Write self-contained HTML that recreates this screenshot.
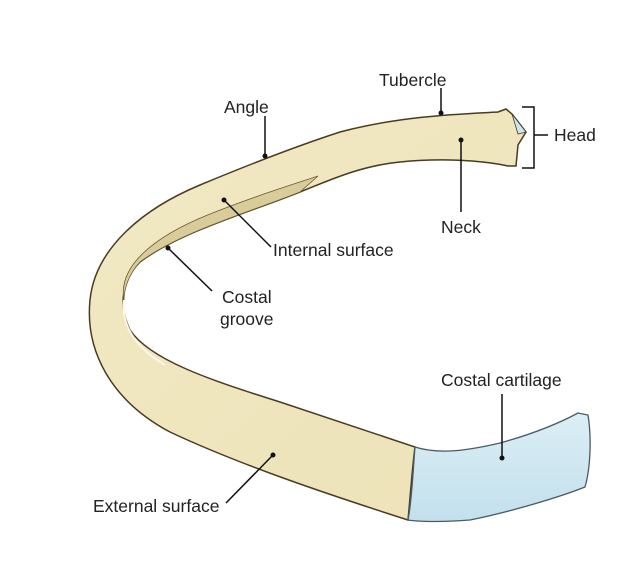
<!DOCTYPE html>
<html><head><style>
body{margin:0;background:#fff;}
svg{display:block;}
text{font-family:"Liberation Sans",sans-serif;font-size:17.5px;fill:#222;}
</style></head><body>
<svg width="626" height="571" viewBox="0 0 626 571">
<defs>
<linearGradient id="bone" x1="0" y1="0" x2="1" y2="1">
<stop offset="0" stop-color="#f1e9c4"/><stop offset="1" stop-color="#ede2b8"/>
</linearGradient>
<linearGradient id="cart" x1="0" y1="0" x2="0" y2="1">
<stop offset="0" stop-color="#dbeef5"/><stop offset="1" stop-color="#c3e0ec"/>
</linearGradient>
</defs>
<path d="M498,112 L506,109 L512,114 L526,132 L518,145 L516,166 L508,166 C480,160 440,158 400,162 C360,166 330,180 300,192 C250,212 180,232 140,262 C122,280 118,305 130,330 C150,360 210,380 280,402 L415,447 C412,470 410,500 408,520 C330,495 240,465 170,432 C110,400 85,350 90,300 C95,250 140,210 200,185 C260,160 300,145 340,132 C400,116 460,114 498,112 Z" fill="url(#bone)" stroke="#4a3b20" stroke-width="1.5"/>
<path d="M124,300 C118,268 150,238 210,214 C250,198 282,188 318,176 L300,192 C250,212 180,232 140,262 C128,275 124,290 124,300 Z" fill="#d8cc9a" stroke="#6a5a30" stroke-width="0.8"/>
<path d="M124,300 C121,330 140,350 165,365" fill="none" stroke="#fbf7e6" stroke-width="2"/>
<path d="M512,114 L526,132 L518,134 Z" fill="#cfe6f0" stroke="#4a3b20" stroke-width="0.8"/>
<path d="M415,447 C440,455 470,450 500,443 C540,432 565,420 578,413 L588,415 C592,440 590,470 585,487 C560,497 510,512 470,520 C445,522 420,522 408,520 C412,500 413,470 415,447 Z" fill="url(#cart)" stroke="#4a5a66" stroke-width="1.3"/>
<g stroke="#111" stroke-width="1.5" fill="none">
<line x1="441" y1="88" x2="441" y2="113"/>
<line x1="265" y1="116" x2="265" y2="156"/>
<line x1="461" y1="140" x2="461" y2="212"/>
<line x1="224" y1="200" x2="271" y2="247"/>
<line x1="168" y1="248" x2="212" y2="291"/>
<line x1="502" y1="394" x2="502" y2="458"/>
<line x1="273" y1="455" x2="226" y2="503"/>
<path d="M522,107 L534,107 L534,168 L522,168 M534,135 L548,135"/>
</g>
<g fill="#111">
<circle cx="441" cy="113" r="2.5"/><circle cx="265" cy="156" r="2.5"/>
<circle cx="461" cy="140" r="2.5"/><circle cx="224" cy="200" r="2.5"/>
<circle cx="168" cy="248" r="2.5"/><circle cx="502" cy="458" r="2.5"/>
<circle cx="273" cy="455" r="2.5"/>
</g>
<text x="379" y="86">Tubercle</text>
<text x="224" y="113">Angle</text>
<text x="554" y="141">Head</text>
<text x="441" y="233">Neck</text>
<text x="273" y="256">Internal surface</text>
<text x="222" y="303">Costal</text>
<text x="220" y="325">groove</text>
<text x="441" y="386">Costal cartilage</text>
<text x="93" y="512">External surface</text>
</svg>
</body></html>
